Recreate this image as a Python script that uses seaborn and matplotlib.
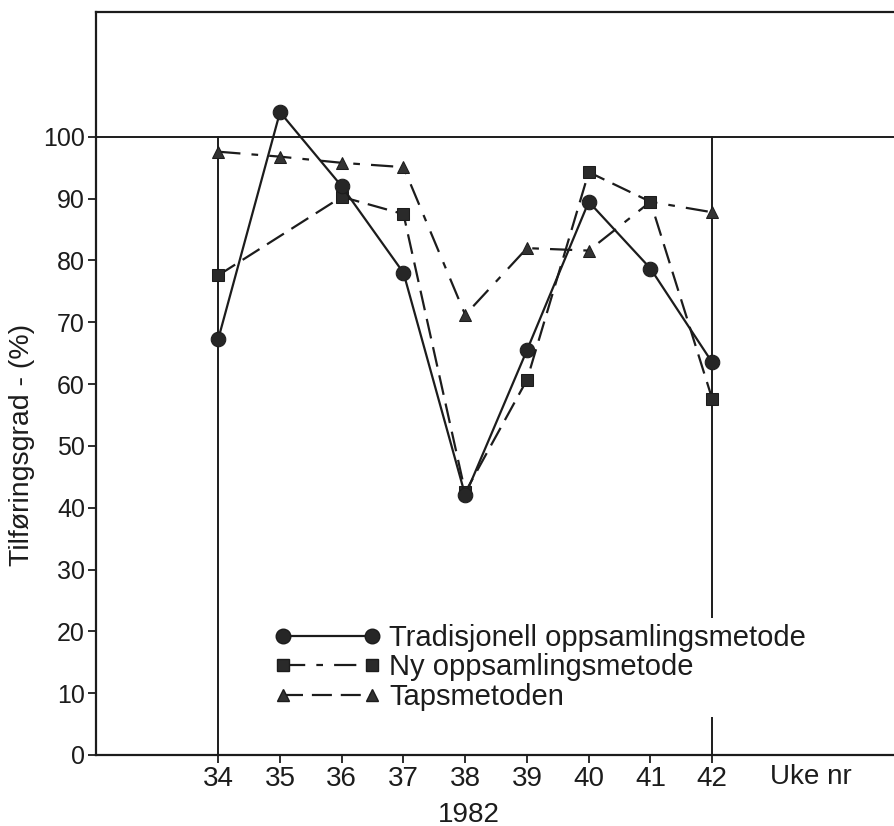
import matplotlib
matplotlib.use("Agg")
import matplotlib.pyplot as plt
from matplotlib.lines import Line2D
import seaborn as sns
import numpy as np
import pandas as pd

weeks = [34, 35, 36, 37, 38, 39, 40, 41, 42]
tradisjonell = [67.3, 104.0, 92.0, 78.0, 42.0, 65.5, 89.5, 78.7, 63.5]
ny = [77.6, np.nan, 90.3, 87.5, 42.5, 60.7, 94.3, 89.5, 57.6]
taps = [97.6, 96.8, 95.8, 95.1, 71.2, 82.0, 81.6, 89.5, 87.8]
y_ticks = [0, 10, 20, 30, 40, 50, 60, 70, 80, 90, 100]
labels = ["Tradisjonell oppsamlingsmetode", "Ny oppsamlingsmetode", "Tapsmetoden"]

sns.set_style("white")
plt.rcParams['font.family'] = ['Liberation Sans', 'DejaVu Sans']

ink = "#1c1c1c"
fig = plt.figure(figsize=(8.95, 8.26), dpi=100)
ax = fig.add_axes([96/895, 71/826, 1 - 96/895, (755-12)/826])

df = pd.DataFrame({"week": weeks, "trad": tradisjonell, "ny": ny, "taps": taps})

dashdot = (0, (10, 5, 3, 5))
dashed = (0, (9, 4))

sns.lineplot(data=df, x="week", y="taps", ax=ax, color=ink, lw=1.6,
             linestyle=dashdot, marker="^", markersize=9,
             markeredgecolor=ink, markerfacecolor="#333333", zorder=3)
sns.lineplot(data=df.dropna(), x="week", y="ny", ax=ax, color=ink, lw=1.6,
             linestyle=dashed, marker="s", markersize=9,
             markeredgecolor=ink, markerfacecolor="#2a2a2a", zorder=4)
sns.lineplot(data=df, x="week", y="trad", ax=ax, color=ink, lw=1.6,
             linestyle="-", marker="o", markersize=10.5,
             markeredgecolor=ink, markerfacecolor="#262626", zorder=5)

# reference frame lines
ax.axhline(100, color=ink, lw=1.4, zorder=2)
ax.plot([weeks[0], weeks[0]], [0, 100], color=ink, lw=1.4, zorder=2)
ax.plot([weeks[-1], weeks[-1]], [0, 100], color=ink, lw=1.4, zorder=2)

ax.set_xlim(32.02, 44.96)
ax.set_ylim(0, 120.2)
ax.set_xticks(weeks)
ax.set_xticklabels([str(w) for w in weeks], fontsize=20)
ax.set_yticks(y_ticks)
ax.set_yticklabels([str(v) for v in y_ticks], fontsize=18)
ax.tick_params(axis='both', direction='out', length=6, width=1.3, color=ink,
               labelcolor=ink, bottom=True, left=True)
ax.tick_params(axis='x', pad=2)
ax.tick_params(axis='y', pad=2)
ax.set_xlabel("")
ax.set_ylabel("")
fig.text(22/895, 1 - 445/826, "Tilføringsgrad - (%)", rotation=90, fontsize=20.5,
         color=ink, ha="center", va="center")
for side in ["left", "bottom", "top"]:
    ax.spines[side].set_color(ink)
    ax.spines[side].set_linewidth(1.6)
ax.spines["right"].set_visible(False)

ax.annotate("Uke nr", xy=(43.6, 0), xycoords=("data", "axes fraction"),
            xytext=(0, -16), textcoords="offset points", fontsize=20,
            color=ink, ha="center", va="center")
ax.annotate("1982", xy=(38.05, 0), xycoords=("data", "axes fraction"),
            xytext=(0, -43), textcoords="offset points", fontsize=20,
            color=ink, ha="center", va="center")

handles = [
    Line2D([], [], color=ink, lw=1.6, linestyle="-", marker="o", markersize=10.5,
           markerfacecolor="#262626"),
    Line2D([], [], color=ink, lw=1.6, linestyle=dashdot, marker="s", markersize=9,
           markerfacecolor="#2a2a2a"),
    Line2D([], [], color=ink, lw=1.6, linestyle=dashed, marker="^", markersize=9,
           markerfacecolor="#333333"),
]
leg = ax.legend(handles, labels, loc="lower left", bbox_to_anchor=(0.197, 0.032),
                numpoints=2, handlelength=3.65, handletextpad=0.3, labelspacing=0.05,
                frameon=True, fontsize=21, borderpad=0.2)
leg.get_frame().set_edgecolor("none")
leg.get_frame().set_facecolor("white")
leg.get_frame().set_alpha(1)
leg.set_zorder(10)
for t in leg.get_texts():
    t.set_color(ink)

fig.savefig("out.png", dpi=100)
